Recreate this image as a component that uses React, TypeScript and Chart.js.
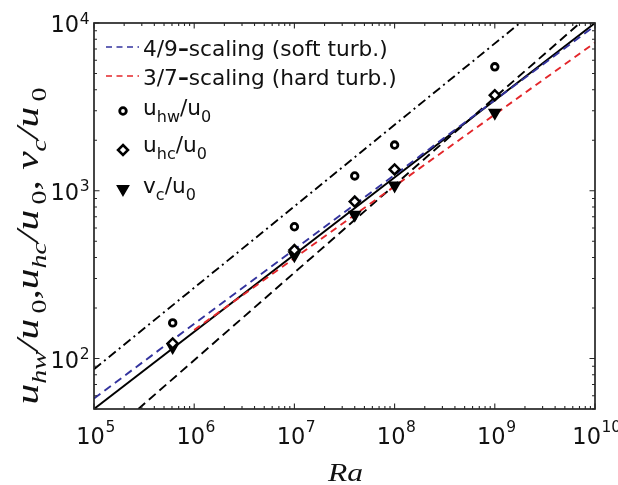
import React, { useEffect, useRef } from 'react';
import { Chart, registerables } from 'chart.js';
Chart.register(...registerables);

// ---- data ----
const ra = [6.1e5, 1e7, 4e7, 1e8, 1e9];
const uHw = [163, 610, 1225, 1873, 5480];
const uHc = [123, 443, 862, 1340, 3710];
const vC = [117, 412, 720, 1075, 2920];

// reference scaling lines (end points)
const softX = [1e5, 1e10];
const softY = [57.8, 9630];
const hardX = [1e6, 1e10];
const hardY = [148, 7640];
const fitX = [1e5, 1e10];
const fitY = [50, 10000];
const upperX = [1e5, 1.78e9];
const upperY = [86.3, 10000];
const lowerX = [2.77e5, 7.08e9];
const lowerY = [50, 10000];

// axis ticks
const xTickValues = [1e5, 1e6, 1e7, 1e8, 1e9, 1e10];
const xTickExps = ['5', '6', '7', '8', '9', '10'];
const yTickValues = [1e2, 1e3, 1e4];
const yTickExps = ['2', '3', '4'];

const legendLines = [
  ['4/9', '–', 'scaling (soft turb.)'],
  ['3/7', '–', 'scaling (hard turb.)'],
];
const legendMarkers = [
  { main: 'u', sub: 'hw' },
  { main: 'u', sub: 'hc' },
  { main: 'v', sub: 'c' },
];

const SANS = '"DejaVu Sans", sans-serif';
const SERIF = '"Liberation Serif", serif';
const BLUE = '#33339e';
const RED = '#e3262a';

const pts = (xs: number[], ys: number[]) => xs.map((x, i) => ({ x, y: ys[i] }));

const decor = {
  id: 'decor',
  afterDraw(chart: any) {
    const ctx = chart.ctx as CanvasRenderingContext2D;
    const { left, right, top, bottom } = chart.chartArea;
    const xs = chart.scales.x;
    const ys = chart.scales.y;
    ctx.save();
    ctx.strokeStyle = '#262626';
    ctx.fillStyle = '#111';
    // ticks
    ctx.lineWidth = 1.1;
    const tickX = (v: number, len: number) => {
      const p = xs.getPixelForValue(v);
      ctx.beginPath();
      ctx.moveTo(p, bottom);
      ctx.lineTo(p, bottom - len);
      ctx.moveTo(p, top);
      ctx.lineTo(p, top + len);
      ctx.stroke();
    };
    const tickY = (v: number, len: number) => {
      const p = ys.getPixelForValue(v);
      ctx.beginPath();
      ctx.moveTo(left, p);
      ctx.lineTo(left + len, p);
      ctx.moveTo(right, p);
      ctx.lineTo(right - len, p);
      ctx.stroke();
    };
    for (let k = 5; k < 10; k++) for (let m = 2; m <= 9; m++) tickX(m * Math.pow(10, k), 3);
    xTickValues.forEach((v) => tickX(v, 5.5));
    for (let k = 1; k < 4; k++)
      for (let m = 2; m <= 9; m++) {
        const v = m * Math.pow(10, k);
        if (v >= 50 && v <= 10000) tickY(v, 3);
      }
    yTickValues.forEach((v) => tickY(v, 5.5));

    // frame
    ctx.lineWidth = 1.7;
    ctx.strokeRect(left, top, right - left, bottom - top);

    // tick labels
    const F1 = `22.5px ${SANS}`;
    const F2 = `15.5px ${SANS}`;
    ctx.textBaseline = 'alphabetic';
    xTickValues.forEach((v, i) => {
      const cx = xs.getPixelForValue(v);
      ctx.font = F1;
      const w1 = ctx.measureText('10').width;
      ctx.font = F2;
      const w2 = ctx.measureText(xTickExps[i]).width;
      const start = cx - (w1 + w2) / 2 + 1.5;
      ctx.textAlign = 'left';
      ctx.font = F1;
      ctx.fillText('10', start, bottom + 34.5);
      ctx.font = F2;
      ctx.fillText(xTickExps[i], start + w1 + 0.5, bottom + 22.5);
    });
    yTickValues.forEach((v, i) => {
      const cy = ys.getPixelForValue(v);
      ctx.font = F2;
      const w2 = ctx.measureText(yTickExps[i]).width;
      ctx.textAlign = 'right';
      ctx.fillText(yTickExps[i], left - 4.5, cy + 0.5);
      ctx.font = F1;
      ctx.fillText('10', left - 4.5 - w2 - 0.5, cy + 9);
    });

    // x title
    ctx.save();
    ctx.font = `italic 26px ${SERIF}`;
    const rw = ctx.measureText('Ra').width;
    ctx.translate((left + right) / 2 + 1, bottom + 71.5);
    ctx.scale(35 / rw, 1);
    ctx.textAlign = 'center';
    ctx.fillText('Ra', 0, 0);
    ctx.restore();

    // y title
    const segs: [string, string][] = [
      ['u', 'm'], ['hw', 's'], ['/u', 'm'], ['0', 'z'], [',', 'm'],
      ['u', 'm'], ['hc', 's'], ['/u', 'm'], ['0', 'z'], [', ', 'm'],
      ['v', 'm'], ['c', 's'], ['/u', 'm'], ['0', 'z'],
    ];
    const fontOf = (t: string) =>
      t === 'm' ? `italic 31px ${SERIF}` : t === 's' ? `italic 21px ${SERIF}` : `21px ${SERIF}`;
    let total = 0;
    const widths = segs.map(([s, t]) => {
      ctx.font = fontOf(t);
      const w = ctx.measureText(s).width + (t === 'z' ? 4 : 0);
      total += w;
      return w;
    });
    ctx.save();
    ctx.translate(38, (top + bottom) / 2 + 30);
    ctx.rotate(-Math.PI / 2);
    ctx.scale(317 / total, 1);
    ctx.textAlign = 'left';
    let px = -total / 2;
    segs.forEach(([s, t], i) => {
      ctx.font = fontOf(t);
      ctx.fillText(s, px + (t === 'z' ? 4 : 0), t === 'm' ? 0 : 8);
      px += widths[i];
    });
    ctx.restore();

    // legend
    ctx.textAlign = 'left';
    ctx.lineWidth = 1.6;
    const lineRows = [
      { y: 47, color: BLUE, base: 55.5 },
      { y: 76, color: RED, base: 84.5 },
    ];
    const LF = `21.7px ${SANS}`;
    lineRows.forEach((r, i) => {
      ctx.strokeStyle = r.color;
      ctx.setLineDash([6, 4.5]);
      ctx.beginPath();
      ctx.moveTo(106, r.y);
      ctx.lineTo(139, r.y);
      ctx.stroke();
      ctx.setLineDash([]);
      ctx.fillStyle = '#111';
      let x = 143;
      const [a, d, b] = legendLines[i];
      ctx.font = LF;
      ctx.fillText(a, x, r.base);
      x += ctx.measureText(a).width;
      ctx.font = `bold 21.7px ${SANS}`;
      ctx.fillText(d, x, r.base);
      x += ctx.measureText(d).width;
      ctx.font = LF;
      ctx.fillText(b, x, r.base);
    });
    const markerRows = [111, 150, 190];
    const baseRows = [114.5, 152, 193];
    ctx.strokeStyle = '#000';
    ctx.fillStyle = '#000';
    // circle
    ctx.lineWidth = 2.8;
    ctx.beginPath();
    ctx.arc(123, markerRows[0], 3.3, 0, Math.PI * 2);
    ctx.stroke();
    // diamond
    ctx.lineWidth = 2.5;
    ctx.beginPath();
    ctx.moveTo(123, markerRows[1] - 5);
    ctx.lineTo(128, markerRows[1]);
    ctx.lineTo(123, markerRows[1] + 5);
    ctx.lineTo(118, markerRows[1]);
    ctx.closePath();
    ctx.stroke();
    // triangle
    ctx.lineWidth = 1.5;
    ctx.beginPath();
    const ty = markerRows[2] - 1;
    ctx.moveTo(123, ty + 6.5);
    ctx.lineTo(123 + 5.6, ty - 3.25);
    ctx.lineTo(123 - 5.6, ty - 3.25);
    ctx.closePath();
    ctx.fill();
    ctx.stroke();

    ctx.fillStyle = '#111';
    legendMarkers.forEach((m, i) => {
      let x = 143;
      const b = baseRows[i];
      ctx.font = LF;
      ctx.fillText(m.main, x, b);
      x += ctx.measureText(m.main).width;
      ctx.font = `16px ${SANS}`;
      ctx.fillText(m.sub, x, b + 7);
      x += ctx.measureText(m.sub).width;
      ctx.font = LF;
      ctx.fillText('/u', x, b);
      x += ctx.measureText('/u').width;
      ctx.font = `16px ${SANS}`;
      ctx.fillText('0', x, b + 7);
    });
    ctx.restore();
  },
};

export default function App() {
  const ref = useRef<HTMLCanvasElement | null>(null);
  useEffect(() => {
    if (!ref.current) return;
    const lineDs = (label: string, xs: number[], ys: number[], color: string, dash: number[]) => ({
      label,
      data: pts(xs, ys),
      showLine: true,
      borderColor: color,
      backgroundColor: color,
      borderWidth: 1.9,
      borderDash: dash,
      pointRadius: 0,
      fill: false,
    });
    const chart = new Chart(ref.current, {
      type: 'scatter',
      data: {
        datasets: [
          {
            label: 'u_hw/u_0',
            data: pts(ra, uHw),
            pointStyle: 'circle',
            pointRadius: 3.3,
            borderWidth: 2.8,
            borderColor: '#000',
            backgroundColor: '#fff',
          },
          {
            label: 'u_hc/u_0',
            data: pts(ra, uHc),
            pointStyle: 'rectRot',
            pointRadius: 5,
            borderWidth: 2.5,
            borderColor: '#000',
            backgroundColor: '#fff',
          },
          {
            label: 'v_c/u_0',
            data: pts(ra, vC),
            pointStyle: 'triangle',
            rotation: 180,
            pointRadius: 6.5,
            borderWidth: 1.5,
            borderColor: '#000',
            backgroundColor: '#000',
          },
          lineDs('3/7', hardX, hardY, RED, [7, 5]),
          lineDs('4/9', softX, softY, BLUE, [8, 5]),
          lineDs('fit', fitX, fitY, '#000', []),
          lineDs('upper', upperX, upperY, '#000', [9, 4, 2, 4]),
          lineDs('lower', lowerX, lowerY, '#000', [9, 5]),
        ] as any,
      },
      options: {
        animation: false,
        responsive: false,
        devicePixelRatio: 1,
        events: [],
        layout: { padding: { top: 23, right: 23, left: 0, bottom: 0 } },
        plugins: { legend: { display: false }, tooltip: { enabled: false } },
        scales: {
          x: {
            type: 'logarithmic',
            min: 1e5,
            max: 1e10,
            ticks: { display: false },
            grid: { display: false },
            border: { display: false },
            afterFit: (s: any) => {
              s.height = 76;
            },
          },
          y: {
            type: 'logarithmic',
            min: 50,
            max: 10000,
            ticks: { display: false },
            grid: { display: false },
            border: { display: false },
            afterFit: (s: any) => {
              s.width = 94;
            },
          },
        },
      } as any,
      plugins: [decor],
    });
    return () => chart.destroy();
  }, []);
  return (
    <div style={{ position: 'absolute', left: 0, top: 0, width: 618, height: 485, background: '#fff' }}>
      <canvas ref={ref} width={618} height={485} style={{ display: 'block', width: 618, height: 485 }} />
    </div>
  );
}
